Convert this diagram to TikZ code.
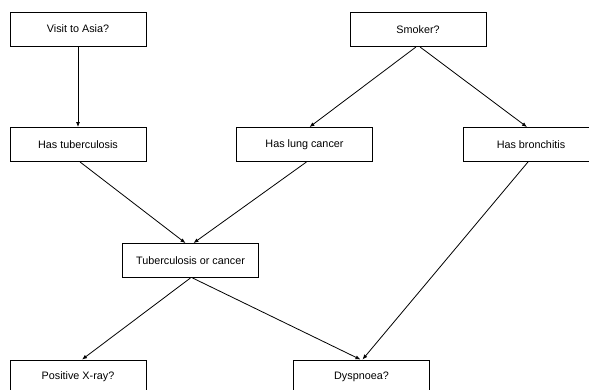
\documentclass[tikz,border=0pt]{standalone}
\usepackage{fontspec}
\setmainfont{Liberation Sans}
\usetikzlibrary{arrows.meta}
\tikzset{
  box/.style={draw, line width=0.9pt, minimum width=136pt, minimum height=34pt,
    inner sep=0pt, font=\fontsize{10.8}{12}\selectfont},
  link/.style={line width=0.8pt, -{Latex[length=5pt,width=4pt]}}
}

\begin{document}
\begin{tikzpicture}[x=1pt, y=-1pt]
\useasboundingbox (0, 0) rectangle (589, 390);
\clip (0, 0) rectangle (589, 390);

\node[box] (asia) at(78, 29) {Visit to Asia?};
\node[box] (smoker) at(418, 29.5) {Smoker?};

\node[box] (tub) at(78, 144.5) {Has tuberculosis};
\node[box] (lung) at(304.5, 144.5) {Has lung cancer};
\node[box] (bronch) at(531, 144.5) {Has bronchitis};

\node[box] (either) at(190.5, 260.5) {Tuberculosis or cancer};

\node[box] (xray) at(78, 377) {Positive X-ray?};
\node[box] (dysp) at(361.5, 377) {Dyspnoea?};

\draw[link] (asia.south) -- (tub.north);
\draw[link] ([xshift=-2]smoker.south) -- ([xshift=5]lung.north);
\draw[link] ([xshift=2]smoker.south) -- ([xshift=-4]bronch.north);

\draw[link] ([xshift=2]tub.south) -- ([xshift=-5]either.north);
\draw[link] ([xshift=2]lung.south) -- ([xshift=3]either.north);

\draw[link] (either.south) -- ([xshift=4]xray.north);
\draw[link] ([xshift=2]either.south) -- ([xshift=-1]dysp.north);
\draw[link] ([xshift=-3]bronch.south) -- ([xshift=1]dysp.north);
\end{tikzpicture}
\end{document}
